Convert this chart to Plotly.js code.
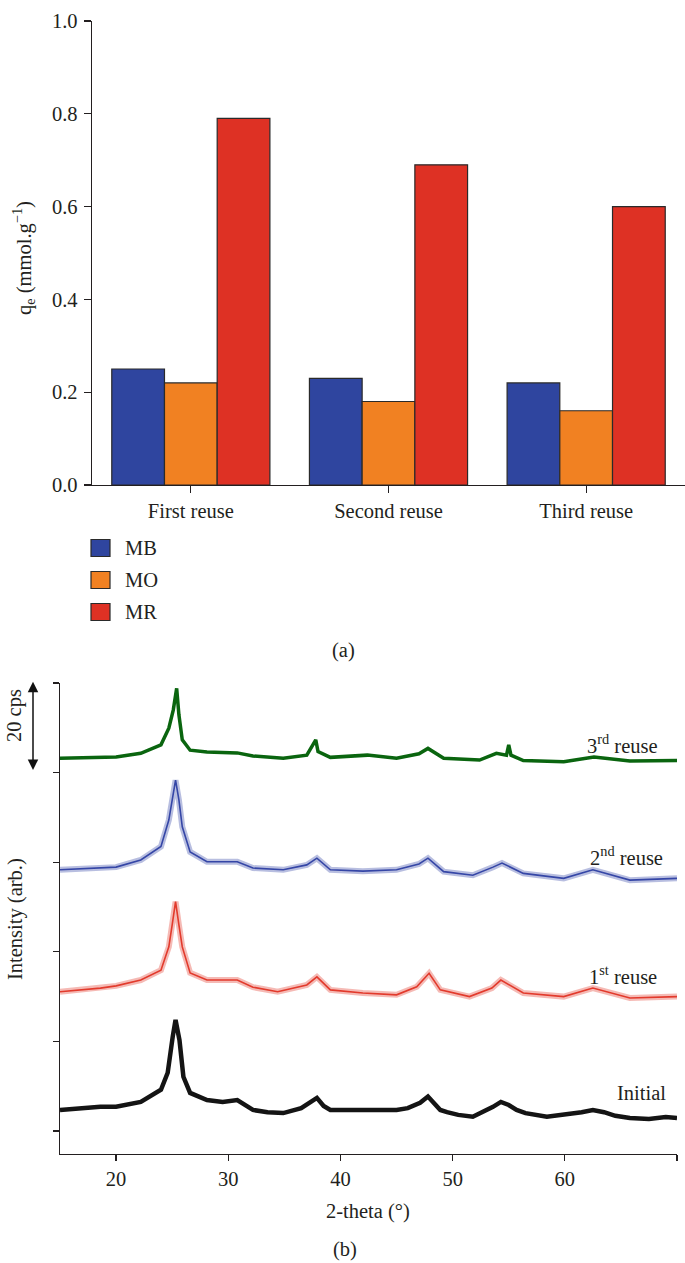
<!DOCTYPE html>
<html>
<head>
<meta charset="utf-8">
<script src="https://cdn.plot.ly/plotly-3.0.1.min.js"></script>
<style>
  html, body { margin: 0; padding: 0; background: #ffffff; }
  #chart { width: 685px; height: 1263px; }
</style>
</head>
<body>
<div id="chart"></div>
<script>
// ---- (a) adsorption capacity after each reuse cycle ----
const cycles = ['First reuse', 'Second reuse', 'Third reuse'];
const qeMB = [0.25, 0.23, 0.22];
const qeMO = [0.22, 0.18, 0.16];
const qeMR = [0.79, 0.69, 0.60];
const dyeNames = ['MB', 'MO', 'MR'];
const dyeColors = ['#2F459F', '#F18122', '#DE3124'];

// ---- (b) XRD patterns (intensity in cps, patterns stacked) ----
const initialTheta = [15, 18.6, 20, 22.2, 24.0, 24.6, 25.05, 25.3, 25.65, 26.0, 26.6, 28.1, 29.5, 30.8, 32.2, 33.5, 34.9, 36.5, 37.9, 38.5, 39.1, 41, 43, 45, 46, 47.1, 47.8, 48.9, 49.5, 50.5, 51.8, 52.5, 53.6, 54.3, 55.0, 55.7, 56.5, 58.4, 60, 61.5, 62.5, 63.5, 64.5, 65.8, 67.5, 69, 70];
const initialInt = [4.7, 5.4, 5.4, 6.5, 9.2, 13.0, 21.1, 24.8, 20.3, 12.1, 8.5, 6.9, 6.5, 6.9, 4.7, 4.2, 4.0, 5.1, 7.4, 5.6, 4.7, 4.7, 4.7, 4.7, 5.1, 6.3, 7.7, 4.7, 4.2, 3.6, 3.2, 4.0, 5.4, 6.5, 5.8, 4.7, 4.0, 3.2, 3.6, 4.2, 4.7, 4.2, 3.4, 2.9, 2.7, 3.1, 2.9];

const reuse1Theta = [15, 18.6, 20, 22.2, 24.0, 24.7, 25.0, 25.3, 25.6, 25.9, 26.6, 28.1, 30.8, 32.2, 34.4, 37.0, 37.9, 39.1, 42, 45, 46.8, 47.9, 48.9, 51.5, 53.5, 54.3, 56.3, 59.9, 62.5, 65.8, 70];
const reuse1Int = [31.1, 31.9, 32.4, 33.7, 35.9, 41.1, 46.0, 51.2, 46.0, 41.1, 35.3, 33.7, 33.7, 32.1, 31.1, 32.6, 34.4, 31.5, 30.8, 30.4, 32.2, 35.2, 31.5, 30.0, 31.9, 33.7, 30.8, 30.0, 31.9, 29.7, 30.0];

const reuse2Theta = [15, 18.6, 20, 22.2, 24.0, 24.7, 25.0, 25.3, 25.6, 25.9, 26.6, 28.1, 30.8, 32.2, 34.9, 37.0, 37.9, 39.1, 42, 45, 47.0, 47.8, 49.2, 51.8, 53.6, 54.4, 56.3, 59.9, 62.5, 65.8, 70];
const reuse2Int = [58.3, 58.7, 58.9, 60.5, 63.5, 69.4, 73.9, 78.3, 73.9, 67.9, 62.3, 60.1, 60.1, 58.7, 58.3, 59.4, 60.9, 58.3, 58.0, 58.3, 59.6, 60.9, 57.9, 57.1, 58.9, 59.8, 57.5, 56.4, 58.3, 56.0, 56.4];

const reuse3Theta = [15, 18.6, 20, 22.2, 24.0, 24.7, 25.1, 25.4, 25.6, 25.9, 26.6, 28.1, 30.8, 32.2, 34.9, 37.0, 37.8, 38.0, 39.1, 42.4, 45, 47.0, 47.8, 49.2, 52.4, 53.9, 54.8, 55.0, 55.2, 56.3, 59.9, 62.6, 65.8, 70];
const reuse3Int = [83.2, 83.4, 83.5, 84.3, 86.2, 89.9, 94.0, 98.8, 92.9, 87.3, 85.0, 84.6, 84.4, 83.7, 83.2, 83.9, 87.3, 84.7, 83.4, 83.9, 83.2, 84.2, 85.4, 83.2, 82.8, 84.3, 83.9, 86.2, 83.9, 82.7, 82.4, 83.5, 82.6, 82.7];

const xrdTicks = [20, 30, 40, 50, 60, 70];
const scaleBarCps = 20;

// ---- page geometry helpers (pixel -> paper) ----
const W = 685, H = 1263;
const px = v => v / W;
const py = v => 1 - v / H;

const serif = '"Liberation Serif", serif';
const ink = '#231F20';
const fs = 20.5;

const traces = [];
[qeMB, qeMO, qeMR].forEach((vals, i) => {
  traces.push({
    type: 'bar', x: cycles, y: vals, name: dyeNames[i],
    xaxis: 'x', yaxis: 'y',
    marker: { color: dyeColors[i], line: { color: '#2a2a2a', width: 1.2 } },
    showlegend: false
  });
});

function xrd(theta, inten, color, core, halo) {
  if (halo) {
    traces.push({ type: 'scatter', mode: 'lines', x: theta, y: inten, xaxis: 'x2', yaxis: 'y2',
      line: { color: color, width: halo }, opacity: 0.35, showlegend: false, hoverinfo: 'skip' });
  }
  traces.push({ type: 'scatter', mode: 'lines', x: theta, y: inten, xaxis: 'x2', yaxis: 'y2',
    line: { color: color, width: core }, showlegend: false });
}
xrd(initialTheta, initialInt, '#141414', 4.5, 0);
xrd(reuse1Theta, reuse1Int, '#E23A2C', 1.6, 6);
xrd(reuse2Theta, reuse2Int, '#3546A6', 1.6, 6);
xrd(reuse3Theta, reuse3Int, '#0A650F', 3.5, 0);

const shapes = [];
const annotations = [];

// legend for (a)
const legendRows = [548, 580, 612];
dyeNames.forEach((n, i) => {
  shapes.push({ type: 'rect', xref: 'paper', yref: 'paper',
    x0: px(91), x1: px(110), y0: py(legendRows[i] - 8.5), y1: py(legendRows[i] + 8.5),
    fillcolor: dyeColors[i], line: { color: '#2a2a2a', width: 1.2 } });
  annotations.push({ xref: 'paper', yref: 'paper', x: px(123), y: py(legendRows[i]),
    xanchor: 'left', yanchor: 'middle', text: n, showarrow: false,
    font: { family: serif, size: fs, color: ink } });
});

const txt = (x, y, text, extra) => Object.assign({
  xref: 'paper', yref: 'paper', x: px(x), y: py(y), text: text, showarrow: false,
  xanchor: 'center', yanchor: 'middle', font: { family: serif, size: fs, color: ink }
}, extra || {});

annotations.push(txt(23, 258, 'q<sub>e</sub> (mmol.g<sup>−1</sup>)', { textangle: -90 }));
annotations.push(txt(343, 650, '(a)'));
annotations.push(txt(585, 744, '3<sup>rd</sup> reuse', { xanchor: 'left' }));
annotations.push(txt(588, 856, '2<sup>nd</sup> reuse', { xanchor: 'left' }));
annotations.push(txt(587, 975, '1<sup>st</sup> reuse', { xanchor: 'left' }));
annotations.push(txt(615, 1093, 'Initial', { xanchor: 'left' }));
annotations.push(txt(15, 919, 'Intensity (arb.)', { textangle: -90 }));
annotations.push(txt(14, 716, scaleBarCps + ' cps', { textangle: -90 }));
annotations.push(txt(368, 1211, '2-theta (°)'));
annotations.push(txt(345, 1249, '(b)'));

// 20 cps scale arrow, drawn in intensity units
annotations.push({
  xref: 'paper', yref: 'y2', axref: 'pixel', ayref: 'y2',
  x: px(33), y: 80.6, ax: 0, ay: 80.6 + scaleBarCps,
  text: '', showarrow: true, arrowside: 'end+start', arrowhead: 2,
  arrowsize: 1.4, arrowwidth: 1.5, arrowcolor: '#111111', standoff: 0, startstandoff: 0
});

const axisCommon = {
  showgrid: false, zeroline: false, showline: true, linecolor: ink, linewidth: 1.3,
  ticks: 'outside', ticklen: 7, tickwidth: 1.3, tickcolor: ink,
  tickfont: { family: serif, size: fs, color: ink }
};

const layout = {
  width: W, height: H,
  margin: { l: 0, r: 0, t: 0, b: 0 },
  font: { family: serif, size: fs, color: ink },
  paper_bgcolor: '#ffffff', plot_bgcolor: '#ffffff',
  barmode: 'group', bargap: 0.2, bargroupgap: 0,
  xaxis: Object.assign({}, axisCommon, {
    domain: [px(92), px(685)], anchor: 'y', type: 'category', range: [-0.5, 2.5]
  }),
  yaxis: Object.assign({}, axisCommon, {
    domain: [py(485), py(21)], anchor: 'x', range: [0, 1.0],
    tickvals: [0, 0.2, 0.4, 0.6, 0.8, 1.0], ticktext: ['0.0', '0.2', '0.4', '0.6', '0.8', '1.0'],
    ticklabelstandoff: 2
  }),
  xaxis2: Object.assign({}, axisCommon, {
    domain: [px(60), px(677)], anchor: 'y2', range: [15, 70], tickvals: xrdTicks, ticklen: 6
  }),
  yaxis2: Object.assign({}, axisCommon, {
    domain: [py(1154), py(683)], anchor: 'x2', range: [-5.13, 100],
    tickvals: [0, 20, 40, 60, 80, 100], showticklabels: false, ticklen: 6
  }),
  shapes: shapes,
  annotations: annotations
};

Plotly.newPlot('chart', traces, layout, { staticPlot: true, displayModeBar: false });
</script>
</body>
</html>
